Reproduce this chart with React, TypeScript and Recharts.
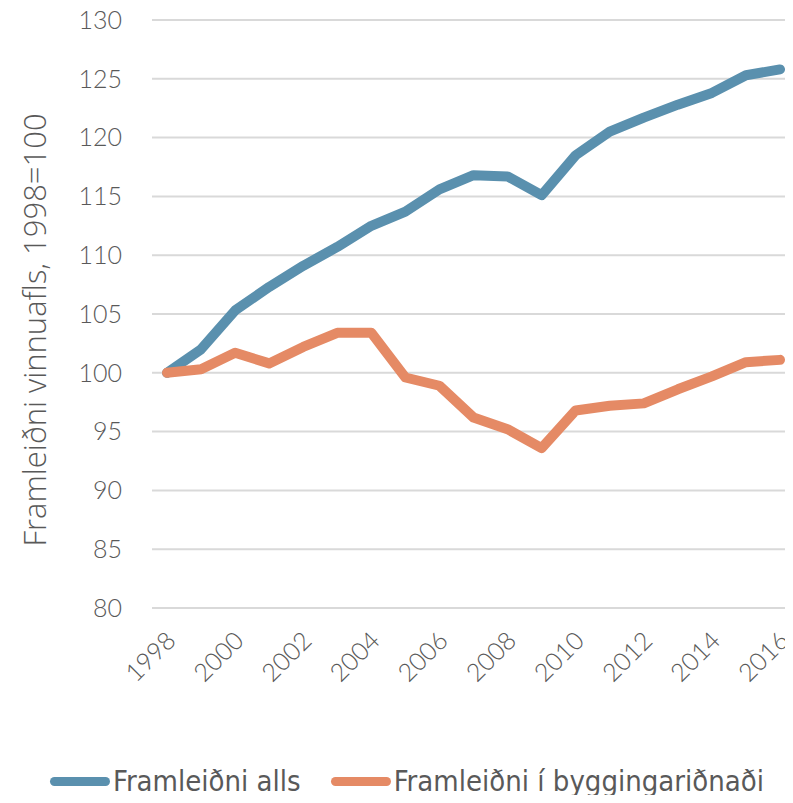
import React from 'react';
import { LineChart, Line, XAxis, YAxis, CartesianGrid, Legend } from 'recharts';

const years = [1998, 1999, 2000, 2001, 2002, 2003, 2004, 2005, 2006, 2007, 2008, 2009, 2010, 2011, 2012, 2013, 2014, 2015, 2016];
const heild = [100, 102.0, 105.3, 107.3, 109.1, 110.7, 112.5, 113.7, 115.6, 116.8, 116.7, 115.1, 118.5, 120.5, 121.7, 122.8, 123.8, 125.3, 125.8];
const bygging = [100, 100.3, 101.7, 100.8, 102.2, 103.4, 103.4, 99.6, 98.9, 96.2, 95.2, 93.6, 96.8, 97.2, 97.4, 98.6, 99.7, 100.9, 101.1];
const yTicks = [80, 85, 90, 95, 100, 105, 110, 115, 120, 125, 130];
const xTicks = [1998, 2000, 2002, 2004, 2006, 2008, 2010, 2012, 2014, 2016];

const data = years.map((y, i) => ({ year: y, alls: heild[i], bygg: bygging[i] }));

const BLUE = '#5a90ae';
const ORANGE = '#e58a65';
const TEXT = '#595959';
const tickFont = 'Lato, "Open Sans", sans-serif';

const XTick = ({ x, y, payload }: any) => (
  <text
    x={x - 4}
    y={y + 12}
    transform={`rotate(-45, ${x - 4}, ${y + 12})`}
    textAnchor="end"
    dominantBaseline="hanging"
    fill={TEXT}
    fontSize={25}
    fontFamily={tickFont}
    fontWeight={300}
  >
    {payload.value}
  </text>
);

const swatch = (color: string) => (
  <span style={{ display: 'inline-block', width: 60, height: 9, borderRadius: 5, background: color, marginRight: 3 }} />
);

const renderLegend = () => (
  <div style={{ display: 'flex', alignItems: 'flex-start', height: 48, paddingTop: 10, boxSizing: 'border-box', paddingLeft: 50, fontFamily: '"Liberation Sans Narrow", "DejaVu Sans Condensed", sans-serif', fontSize: 29, color: TEXT, lineHeight: '32px' }}>
    <span style={{ display: 'flex', alignItems: 'center' }}>
      {swatch(BLUE)}
      <span style={{ marginRight: 30 }}>Framleiðni alls</span>
    </span>
    <span style={{ display: 'flex', alignItems: 'center' }}>
      {swatch(ORANGE)}
      <span>Framleiðni í byggingariðnaði</span>
    </span>
  </div>
);

const App: React.FC = () => {
  return (
    <div style={{ margin: -8, width: 793, height: 803, background: '#fff' }}>
      <LineChart width={793} height={803} data={data} margin={{ top: 20, right: 0, left: 0, bottom: 0 }}>
        <CartesianGrid vertical={false} stroke="#d9d9d9" strokeWidth={2} />
        <XAxis
          dataKey="year"
          ticks={xTicks}
          interval={0}
          axisLine={false}
          tickLine={false}
          height={147}
          padding={{ left: 15, right: 13 }}
          tick={<XTick />}
        />
        <YAxis
          domain={[80, 130]}
          ticks={yTicks}
          width={152}
          axisLine={false}
          tickLine={false}
          tickSize={0}
          tickMargin={30}
          tick={{ fill: TEXT, fontSize: 25, fontFamily: tickFont, fontWeight: 300 }}
          label={{
            value: 'Framleiðni vinnuafls, 1998=100',
            angle: -90,
            position: 'insideLeft',
            dx: 30,
            dy: 16,
            style: { textAnchor: 'middle', fill: TEXT, fontSize: 31, fontFamily: '"Open Sans", sans-serif', fontWeight: 300 },
          }}
        />
        <Line type="linear" dataKey="alls" stroke={BLUE} strokeWidth={10} dot={false} strokeLinejoin="round" strokeLinecap="round" isAnimationActive={false} />
        <Line type="linear" dataKey="bygg" stroke={ORANGE} strokeWidth={10} dot={false} strokeLinejoin="round" strokeLinecap="round" isAnimationActive={false} />
        <Legend verticalAlign="bottom" content={renderLegend} />
      </LineChart>
    </div>
  );
};

export default App;
